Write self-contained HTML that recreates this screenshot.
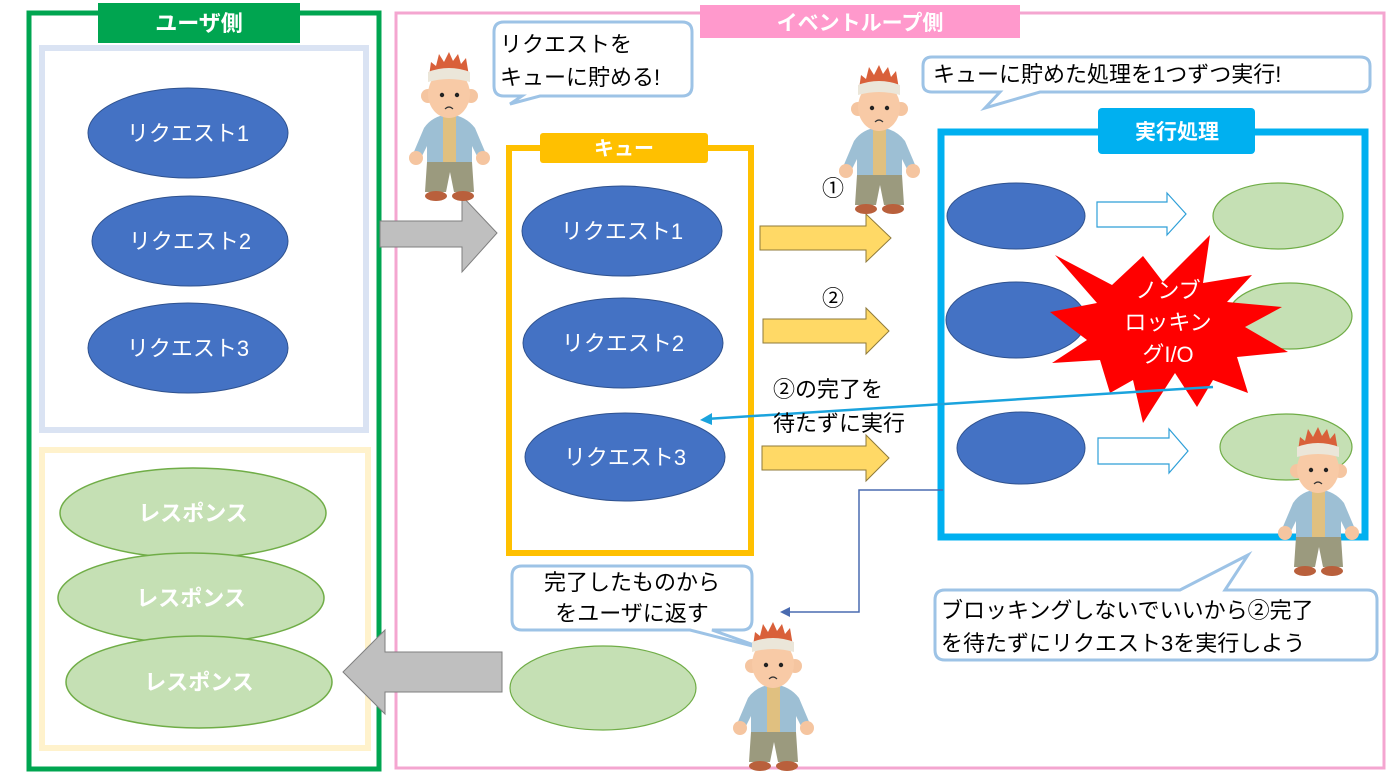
<!DOCTYPE html>
<html><head><meta charset="utf-8"><style>
html,body{margin:0;padding:0;background:#fff;}
svg{display:block;font-family:"Liberation Sans","Noto Sans CJK JP",sans-serif;}
</style></head><body>
<svg width="1400" height="784" viewBox="0 0 1400 784" xmlns="http://www.w3.org/2000/svg">
<defs>
<g id="man">
  <path d="M22,78 Q30,66 47,64 Q64,66 73,78 L84,104 Q86,112 78,112 L70,96 L70,114 L25,114 L25,96 L17,112 Q9,112 11,104 Z" fill="#9dbfd4"/>
  <rect x="41" y="66" width="13" height="48" fill="#e0c080"/>
  <circle cx="14" cy="108" r="7" fill="#f5c5a0"/>
  <circle cx="81" cy="108" r="7" fill="#f5c5a0"/>
  <path d="M25,112 L70,112 L72,142 L52,142 L48,122 L44,142 L23,142 Z" fill="#9b9a7e"/>
  <ellipse cx="34" cy="146" rx="11" ry="5" fill="#b9603c"/>
  <ellipse cx="61" cy="146" rx="11" ry="5" fill="#b9603c"/>
  <circle cx="26" cy="46" r="7" fill="#f5c5a0"/>
  <circle cx="69" cy="46" r="7" fill="#f5c5a0"/>
  <ellipse cx="47" cy="44" rx="21" ry="24" fill="#f8caa6"/>
  <path d="M27,26 L29,12 L34,16 L37,4 L42,12 L47,2 L51,11 L56,4 L59,14 L64,8 L67,26 Z" fill="#d9603a"/>
  <path d="M26,22 Q47,14 68,22 L68,32 Q47,26 26,32 Z" fill="#ebe6d9"/>
  <circle cx="40" cy="45" r="2.2" fill="#222"/>
  <circle cx="55" cy="45" r="2.2" fill="#222"/>
  <path d="M43,59 Q47,55 51,59" stroke="#333" fill="none" stroke-width="1.2"/>
</g>
</defs>

<!-- User side -->
<rect x="29" y="13" width="350" height="756" fill="none" stroke="#00a550" stroke-width="5"/>
<rect x="98" y="3" width="202" height="40" fill="#00a550"/>
<text x="199" y="31" font-size="22" font-weight="bold" fill="#fff" text-anchor="middle">ユーザ側</text>
<rect x="42" y="48" width="324" height="382" fill="none" stroke="#dae3f3" stroke-width="6"/>
<g fill="#4472c4" stroke="#2f528f" stroke-width="1">
<ellipse cx="188" cy="133" rx="100" ry="45"/>
<ellipse cx="190" cy="241" rx="98" ry="45"/>
<ellipse cx="188" cy="348" rx="100" ry="45"/>
</g>
<g fill="#fff" font-size="22" text-anchor="middle">
<text x="188" y="141">リクエスト1</text>
<text x="190" y="249">リクエスト2</text>
<text x="188" y="356">リクエスト3</text>
</g>
<rect x="42" y="450" width="326" height="298" fill="none" stroke="#fff2cc" stroke-width="6"/>
<g fill="#c5e0b4" stroke="#70ad47" stroke-width="1.5">
<ellipse cx="193" cy="513" rx="133" ry="45"/>
<ellipse cx="191" cy="598" rx="133" ry="45"/>
<ellipse cx="199" cy="682" rx="133" ry="46"/>
</g>
<g fill="#fff" font-size="22" font-weight="bold" text-anchor="middle">
<text x="193" y="521">レスポンス</text>
<text x="191" y="606">レスポンス</text>
<text x="199" y="690">レスポンス</text>
</g>

<!-- Event loop side -->
<rect x="396" y="13" width="988" height="755" fill="none" stroke="#f4a6d0" stroke-width="3"/>
<rect x="700" y="5" width="320" height="33" fill="#ff99cc"/>
<text x="860" y="30" font-size="21" font-weight="bold" fill="#fff" text-anchor="middle">イベントループ側</text>

<!-- gray arrows -->
<path d="M380,221 L462,221 L462,196 L497,233 L462,272 L462,247 L380,247 Z" fill="#bfbfbf" stroke="#7f7f7f" stroke-width="1"/>
<path d="M502,652 L385,652 L385,630 L343,672 L385,714 L385,692 L502,692 Z" fill="#bfbfbf" stroke="#7f7f7f" stroke-width="1"/>

<!-- queue -->
<rect x="509" y="148" width="242" height="405" fill="none" stroke="#ffc000" stroke-width="6"/>
<rect x="540" y="133" width="168" height="30" rx="3" fill="#ffc000"/>
<text x="624" y="155" font-size="20" font-weight="bold" fill="#fff" text-anchor="middle">キュー</text>
<g fill="#4472c4" stroke="#2f528f">
<ellipse cx="622" cy="231" rx="100" ry="45"/>
<ellipse cx="623" cy="343" rx="100" ry="45"/>
<ellipse cx="625" cy="457" rx="100" ry="44"/>
</g>
<g fill="#fff" font-size="22" text-anchor="middle">
<text x="622" y="239">リクエスト1</text>
<text x="623" y="351">リクエスト2</text>
<text x="625" y="465">リクエスト3</text>
</g>

<!-- yellow arrows -->
<g fill="#ffd966" stroke="#8f7a3a" stroke-width="1">
<path d="M760,226 L866,226 L866,214 L891,238 L866,262 L866,250 L760,250 Z"/>
<path d="M763,319 L866,319 L866,308 L889,331 L866,354 L866,343 L763,343 Z"/>
<path d="M762,446 L866,446 L866,435 L889,458 L866,481 L866,470 L762,470 Z"/>
</g>
<text x="833" y="196" font-size="22" text-anchor="middle" fill="#000">①</text>
<text x="833" y="306" font-size="22" text-anchor="middle" fill="#000">②</text>

<!-- exec box -->
<rect x="941" y="132" width="424" height="405" fill="none" stroke="#00b0f0" stroke-width="7"/>
<rect x="1098" y="108" width="157" height="46" rx="4" fill="#00b0f0"/>
<text x="1177" y="139" font-size="21" font-weight="bold" fill="#fff" text-anchor="middle">実行処理</text>
<g fill="#4472c4" stroke="#2f528f">
<ellipse cx="1016" cy="216" rx="69" ry="33"/>
<ellipse cx="1016" cy="320" rx="70" ry="38"/>
<ellipse cx="1021" cy="448" rx="64" ry="36"/>
</g>
<g fill="#c5e0b4" stroke="#70ad47" stroke-width="1.2">
<ellipse cx="1278" cy="216" rx="65" ry="33"/>
<ellipse cx="1290" cy="316" rx="62" ry="33"/>
<ellipse cx="1286" cy="447" rx="66" ry="33"/>
</g>
<g fill="#fff" stroke="#2e9fd8" stroke-width="1.2">
<path d="M1097,202 L1167,202 L1167,193 L1186,214 L1167,235 L1167,227 L1097,227 Z"/>
<path d="M1098,438 L1169,438 L1169,429 L1188,451 L1169,473 L1169,464 L1098,464 Z"/>
</g>
<!-- starburst -->
<path d="M1055,255 L1112,285 L1143,256 L1163,282 L1210,235 L1203,283 L1252,275 L1227,302 L1282,307 L1245,327 L1288,352 L1237,357 L1248,393 L1213,380 L1197,407 L1175,373 L1143,423 L1133,380 L1110,393 L1100,360 L1052,363 L1087,340 L1050,312 L1097,303 Z" fill="#ff0000"/>
<g fill="#fff" font-size="22" text-anchor="middle">
<text x="1168" y="298">ノンブ</text>
<text x="1168" y="330">ロッキン</text>
<text x="1168" y="362">グI/O</text>
</g>

<!-- blue connector -->
<line x1="1213" y1="387" x2="706" y2="419" stroke="#1aa3dd" stroke-width="2.5"/>
<path d="M700,420 L712,413 L712,425 Z" fill="#1aa3dd"/>
<text x="773" y="397" font-size="22" fill="#000">②の完了を</text>
<text x="773" y="431" font-size="22" fill="#000">待たずに実行</text>

<!-- dark blue connector -->
<path d="M943,490 L859,490 L859,612 L786,612" fill="none" stroke="#4a6bb0" stroke-width="1.5"/>
<path d="M780,612 L790,607 L790,617 Z" fill="#4a6bb0"/>

<ellipse cx="603" cy="688" rx="93" ry="42" fill="#c5e0b4" stroke="#70ad47" stroke-width="1.2"/>

<!-- callouts -->
<g fill="#fff" stroke="#9dc3e6" stroke-width="3">
<path d="M504,22 L682,22 Q692,22 692,32 L692,86 Q692,96 682,96 L540,96 L510,104 L522,96 L504,96 Q494,96 494,86 L494,32 Q494,22 504,22 Z"/>
<path d="M932,57 L1360,57 Q1370,57 1370,66 L1370,84 Q1370,92 1360,92 L1040,92 L985,108 L1000,92 L932,92 Q923,92 923,84 L923,66 Q923,57 932,57 Z"/>
<path d="M522,566 L742,566 Q752,566 752,576 L752,620 Q752,630 742,630 L712,630 L768,650 L690,630 L522,630 Q512,630 512,620 L512,576 Q512,566 522,566 Z"/>
<path d="M945,590 L1180,590 L1248,555 L1225,590 L1367,590 Q1377,590 1377,600 L1377,650 Q1377,660 1367,660 L945,660 Q935,660 935,650 L935,600 Q935,590 945,590 Z"/>
</g>
<g fill="#000" font-size="22">
<text x="500" y="52">リクエストを</text>
<text x="500" y="85">キューに貯める!</text>
<text x="933" y="82">キューに貯めた処理を1つずつ実行!</text>
<text x="632" y="590" text-anchor="middle">完了したものから</text>
<text x="632" y="621" text-anchor="middle">をユーザに返す</text>
<text x="941" y="618">ブロッキングしないでいいから②完了</text>
<text x="941" y="651">を待たずにリクエスト3を実行しよう</text>
</g>

<!-- figures -->
<use href="#man" x="402" y="50"/>
<use href="#man" x="832" y="63"/>
<use href="#man" x="1271" y="425"/>
<use href="#man" x="726" y="620"/>
</svg>
</body></html>
